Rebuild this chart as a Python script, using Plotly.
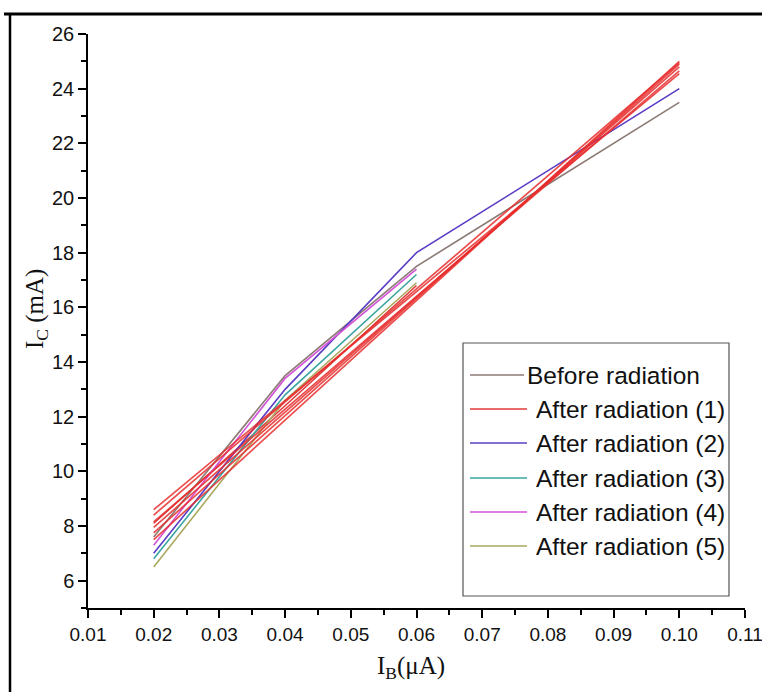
import plotly.graph_objects as go

# ---- data ----
ib = [0.02, 0.04, 0.06, 0.10]
before = [7.6, 13.5, 17.5, 23.5]
after1 = [8.1, 12.4, 16.8]
after2 = [7.0, 13.0, 18.0, 24.0]
after3 = [6.8, 12.8, 17.2]
after4 = [7.3, 13.4, 17.4]
after5 = [6.5, 12.6, 16.9]

# straight red (fit) lines, endpoints at IB = 0.02 and 0.10
fit_x = [0.02, 0.10]
fit_start = [8.6, 8.4, 8.15, 7.95, 7.75, 7.5]
fit_end = [24.55, 24.95, 24.65, 24.8, 24.9, 25.0]

names = ["Before radiation", "After radiation (1)", "After radiation (2)",
         "After radiation (3)", "After radiation (4)", "After radiation (5)"]
series = [before, after1, after2, after3, after4, after5]
colors = ["#8c7a74", "#e03a3a", "#5b3cc4", "#3aa5a0", "#d452d8", "#a9a85e"]

fig = go.Figure()
for name, ys, col in zip(names, series, colors):
    fig.add_trace(go.Scatter(x=ib[:len(ys)], y=ys, mode="lines", name=name,
                             line=dict(color=col, width=1.6), showlegend=False))

for s, e in zip(fit_start, fit_end):
    fig.add_trace(go.Scatter(x=fit_x, y=[s, e], mode="lines", showlegend=False,
                             line=dict(color="rgba(232,45,45,0.85)", width=1.7),
                             hoverinfo="skip"))

W, H = 762, 692
L, R, T, B = 88, 17, 34, 84
pw, ph = W - L - R, H - T - B

def px(x):
    return (x - L) / pw

def py(y):
    return (H - B - y) / ph

sans = "Liberation Sans, Arial, sans-serif"
serif = "Liberation Serif, Times New Roman, serif"

shapes = [
    # legend box
    dict(type="rect", xref="paper", yref="paper",
         x0=px(463), x1=px(729), y0=py(596), y1=py(343),
         line=dict(color="#555", width=1.2), fillcolor="rgba(0,0,0,0)"),
    # outer frame: top and left border lines
    dict(type="line", xref="paper", yref="paper",
         x0=px(4), x1=px(762), y0=py(14), y1=py(14),
         line=dict(color="black", width=3)),
    dict(type="line", xref="paper", yref="paper",
         x0=px(10), x1=px(10), y0=py(14), y1=py(692),
         line=dict(color="black", width=2.5)),
]

annotations = [
    dict(text="I<sub>C</sub> (mA)", xref="paper", yref="paper", x=px(37), y=py(309),
         textangle=-90, showarrow=False, xanchor="center", yanchor="middle",
         font=dict(family=serif, size=25, color="#111")),
    dict(text="I<sub>B</sub>(μA)", xref="paper", yref="paper", x=px(411), y=py(667),
         showarrow=False, xanchor="center", yanchor="middle",
         font=dict(family=serif, size=25, color="#111")),
]

# manual legend (rows, sample lines, labels)
row_y = [375, 409, 443, 478, 512, 546]
for i, (name, col, yy) in enumerate(zip(names, colors, row_y)):
    x1 = 524 if i == 0 else 527
    tx = 525 if i == 0 else 534
    shapes.append(dict(type="line", xref="paper", yref="paper",
                       x0=px(470), x1=px(x1), y0=py(yy), y1=py(yy),
                       line=dict(color=col, width=1.5)))
    annotations.append(dict(text=name, xref="paper", yref="paper", x=px(tx), y=py(yy),
                            showarrow=False, xanchor="left", yanchor="middle",
                            font=dict(family=sans, size=24.5, color="#111")))

fig.update_layout(
    width=W, height=H,
    margin=dict(l=L, r=R, t=T, b=B, autoexpand=False),
    paper_bgcolor="white", plot_bgcolor="white",
    showlegend=False,
    xaxis=dict(range=[0.01, 0.11], tick0=0.01, dtick=0.01, tickformat=".2f",
               automargin=False,
               showgrid=False, zeroline=False, showline=True, linecolor="black", linewidth=1.5,
               ticks="outside", ticklen=8, tickwidth=1.5, tickcolor="black",
               ticklabeloverflow="allow",
               minor=dict(ticks="outside", ticklen=5, tickwidth=1.5, tickcolor="black", dtick=0.005),
               tickfont=dict(family=sans, size=19, color="#111")),
    yaxis=dict(range=[5, 26], tick0=6, dtick=2,
               automargin=False,
               showgrid=False, zeroline=False, showline=True, linecolor="black", linewidth=1.5,
               ticks="outside", ticklen=8, tickwidth=1.5, tickcolor="black",
               minor=dict(ticks="outside", ticklen=5, tickwidth=1.5, tickcolor="black", dtick=1),
               tickfont=dict(family=sans, size=20, color="#111")),
    shapes=shapes,
    annotations=annotations,
)

fig.write_html("out.html", config={"displayModeBar": False},
               post_script="document.body.style.margin='0';document.body.style.overflow='hidden';")
